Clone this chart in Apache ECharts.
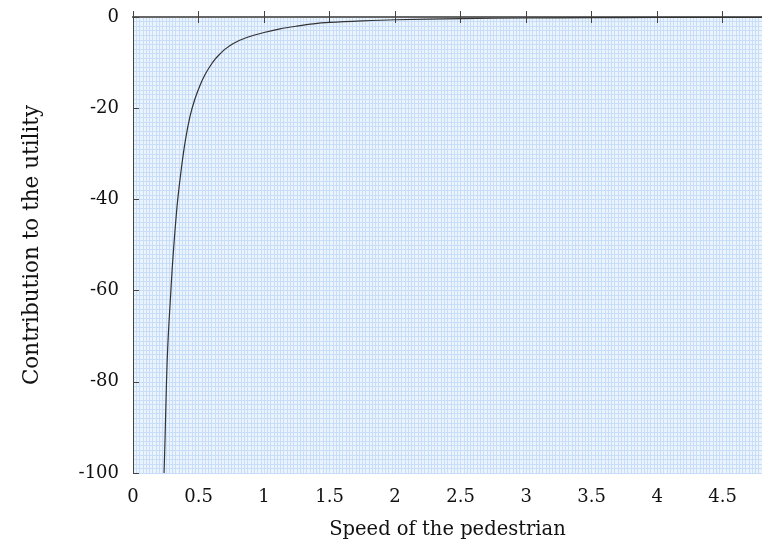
<!DOCTYPE html>
<html>
<head>
<meta charset="utf-8">
<script src="https://cdn.jsdelivr.net/npm/echarts@6/dist/echarts.min.js"></script>
<style>
  html, body { margin: 0; padding: 0; background: #fff; }
  #chart { width: 762px; height: 546px; }
</style>
</head>
<body>
<div id="chart"></div>
<script>
// speed of the pedestrian vs contribution to the utility
const speeds = [0.237, 0.245, 0.252, 0.26, 0.27, 0.285, 0.3, 0.32, 0.341, 0.37, 0.4, 0.435, 0.47,
    0.511, 0.55, 0.588, 0.625, 0.664, 0.7, 0.766, 0.868, 1.0, 1.122, 1.25, 1.376, 1.5, 1.75,
    2.0, 2.5, 3.0, 3.5, 4.0, 4.5, 4.8];
const utility = [-100, -92, -84, -76, -69.4, -62, -54.8, -47, -40.1, -33, -27, -21.8, -18.2,
    -15.0, -12.6, -10.8, -9.3, -8.1, -7.1, -5.8, -4.5, -3.4, -2.6, -2.0, -1.5, -1.2, -0.85,
    -0.6, -0.35, -0.22, -0.15, -0.1, -0.08, -0.07];

const font = 'DejaVu Serif';
const axisColor = '#666';
const gridColor = '#c8def8';

const chart = echarts.init(document.getElementById('chart'));

const option = {
    animation: false,
    grid: {
        left: 133,
        right: 0,
        top: 17,
        bottom: 73,
        show: true,
        backgroundColor: '#ebf3fd',
        borderWidth: 0
    },
    xAxis: [
        {
            type: 'value',
            min: 0,
            max: 4.8,
            interval: 0.5,
            name: 'Speed of the pedestrian',
            nameLocation: 'middle',
            nameGap: 47,
            nameTextStyle: { fontFamily: font, fontSize: 19.5, color: '#111' },
            axisLine: { show: true, lineStyle: { color: axisColor, width: 2 } },
            axisTick: { show: true, inside: true, length: 6, lineStyle: { color: '#444' } },
            axisLabel: { fontFamily: font, fontSize: 18, color: '#111', margin: 15, showMaxLabel: false },
            splitLine: { show: true, lineStyle: { color: gridColor, width: 1 } },
            minorTick: { show: false, splitNumber: 20 },
            minorSplitLine: { show: true, lineStyle: { color: gridColor, width: 1 } }
        },
        {
            type: 'value',
            position: 'top',
            min: 0,
            max: 4.8,
            interval: 0.5,
            axisLine: { show: true, lineStyle: { color: axisColor, width: 2 } },
            axisTick: { show: true, inside: true, length: 6, lineStyle: { color: '#444' } },
            axisLabel: { show: false },
            splitLine: { show: false }
        }
    ],
    yAxis: {
        type: 'value',
        min: -100,
        max: 0,
        interval: 20,
        name: 'Contribution to the utility',
        nameLocation: 'middle',
        nameGap: 90,
        nameTextStyle: { fontFamily: font, fontSize: 21.5, color: '#111' },
        axisLine: { show: true, lineStyle: { color: '#444', width: 1 } },
        axisTick: { show: true, inside: true, length: 6, lineStyle: { color: '#444' } },
        axisLabel: { fontFamily: font, fontSize: 18, color: '#111', margin: 14 },
        splitLine: { show: true, lineStyle: { color: gridColor, width: 1 } },
        minorTick: { show: false, splitNumber: 20 },
        minorSplitLine: { show: true, lineStyle: { color: gridColor, width: 1 } }
    },
    series: [
        {
            type: 'line',
            xAxisIndex: 0,
            data: speeds.map((s, i) => [s, utility[i]]),
            smooth: 0.3,
            symbol: 'none',
            clip: true,
            lineStyle: { color: '#333', width: 1.2 }
        }
    ]
};

chart.setOption(option);
</script>
</body>
</html>
